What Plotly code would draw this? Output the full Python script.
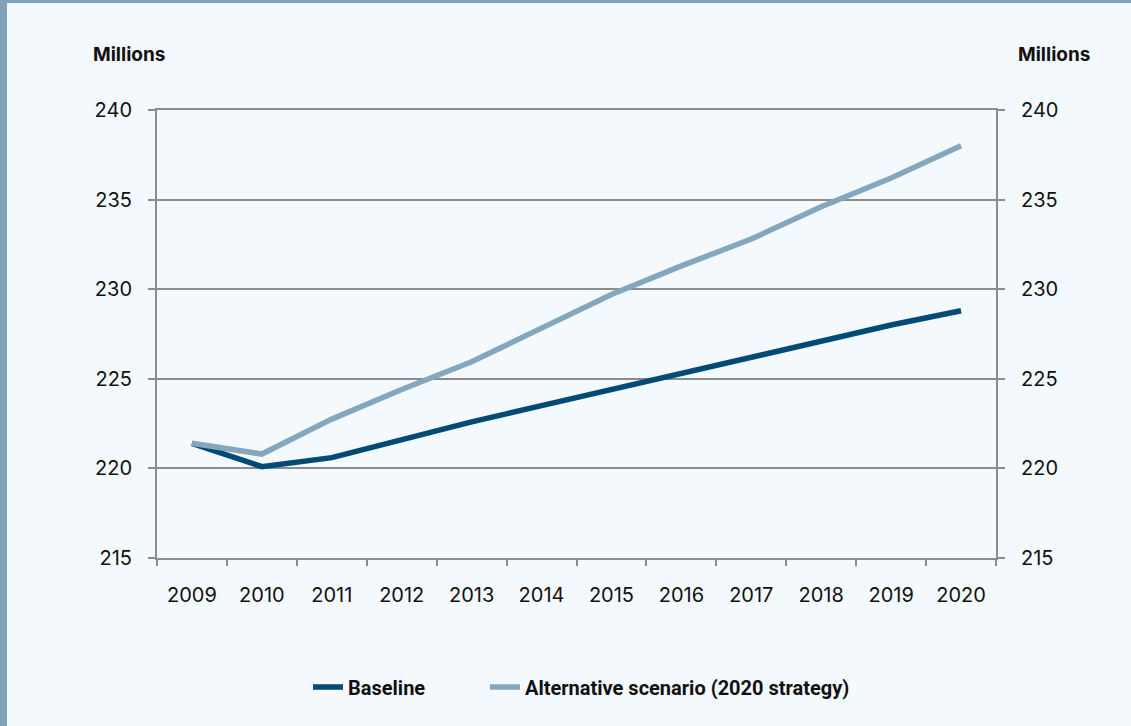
import plotly.graph_objects as go

years = ["2009", "2010", "2011", "2012", "2013", "2014", "2015", "2016", "2017", "2018", "2019", "2020"]
baseline = [221.4, 220.1, 220.6, 221.6, 222.6, 223.5, 224.4, 225.3, 226.2, 227.1, 228.0, 228.8]
alternative = [221.4, 220.8, 222.75, 224.4, 225.95, 227.8, 229.7, 231.3, 232.8, 234.6, 236.2, 238.0]
y_ticks = [215, 220, 225, 230, 235, 240]

W, H = 1131, 726
L, R, T, B = 157, 135, 110, 168
pw, ph = W - L - R, H - T - B

BG = "#f4f9fd"
BORDER = "#7fa3ba"
GRID = "#8c8c8c"
FONT = "Inter, 'Open Sans', sans-serif"

fig = go.Figure()
fig.add_trace(go.Scatter(x=years, y=baseline, name="Baseline", mode="lines",
                         line=dict(color="#004a76", width=5.5), legend="legend"))
fig.add_trace(go.Scatter(x=years, y=alternative, name="Alternative scenario (2020 strategy)", mode="lines",
                         line=dict(color="#84a7bd", width=5.5), legend="legend2"))
# invisible trace to activate the right axis
fig.add_trace(go.Scatter(x=years, y=baseline, yaxis="y2", mode="lines", line=dict(width=0),
                         showlegend=False, hoverinfo="skip", opacity=0))

axis_font = dict(family=FONT, size=20, color="#111111")
legend_font = dict(family="Roboto, sans-serif", size=20, color="#111111", weight="bold")
legend_y = -(687 - (H - B)) / ph

fig.update_layout(
    width=W, height=H,
    margin=dict(l=L, r=R, t=T, b=B),
    paper_bgcolor=BG, plot_bgcolor=BG,
    showlegend=True,
    legend=dict(orientation="h", x=(308 - L) / pw, xanchor="left", y=legend_y, yanchor="middle",
                font=legend_font, bgcolor="rgba(0,0,0,0)"),
    legend2=dict(orientation="h", x=(485 - L) / pw, xanchor="left", y=legend_y, yanchor="middle",
                 font=legend_font, bgcolor="rgba(0,0,0,0)"),
    xaxis=dict(type="category", range=[-0.5, 11.5], tickson="boundaries", ticks="outside",
               ticklen=6, tickcolor=GRID, tickwidth=2, showline=True, linecolor=GRID, linewidth=2,
               mirror=True, showgrid=False, tickfont=axis_font, ticklabelstandoff=18, zeroline=False),
    yaxis=dict(range=[215, 240], tickvals=y_ticks, ticks="outside", ticklen=7, tickcolor=GRID,
               tickwidth=2, showline=True, linecolor=GRID, linewidth=2, showgrid=True,
               gridcolor=GRID, gridwidth=2, zeroline=False, tickfont=axis_font, ticklabelstandoff=12),
    yaxis2=dict(range=[215, 240], tickvals=y_ticks, overlaying="y", side="right", ticks="outside",
                ticklen=7, tickcolor=GRID, tickwidth=2, showline=True, linecolor=GRID, linewidth=2,
                showgrid=False, zeroline=False, tickfont=axis_font, ticklabelstandoff=12),
    annotations=[
        dict(text="<b>Millions</b>", xref="paper", yref="paper", x=(91 - L) / pw, xanchor="left",
             y=1 + (T - 54) / ph, yanchor="middle", showarrow=False,
             font=dict(family=FONT, size=19, color="#111111")),
        dict(text="<b>Millions</b>", xref="paper", yref="paper", x=(1016 - L) / pw, xanchor="left",
             y=1 + (T - 54) / ph, yanchor="middle", showarrow=False,
             font=dict(family=FONT, size=19, color="#111111")),
    ],
    shapes=[
        dict(type="rect", xref="paper", yref="paper", x0=-L / pw, x1=(7 - L) / pw,
             y0=-B / ph, y1=1 + T / ph, fillcolor=BORDER, line=dict(width=0), layer="above"),
        dict(type="rect", xref="paper", yref="paper", x0=-L / pw, x1=1 + R / pw,
             y0=1 + (T - 3) / ph, y1=1 + T / ph, fillcolor=BORDER, line=dict(width=0), layer="above"),
    ],
)

fig.write_html("out.html")
